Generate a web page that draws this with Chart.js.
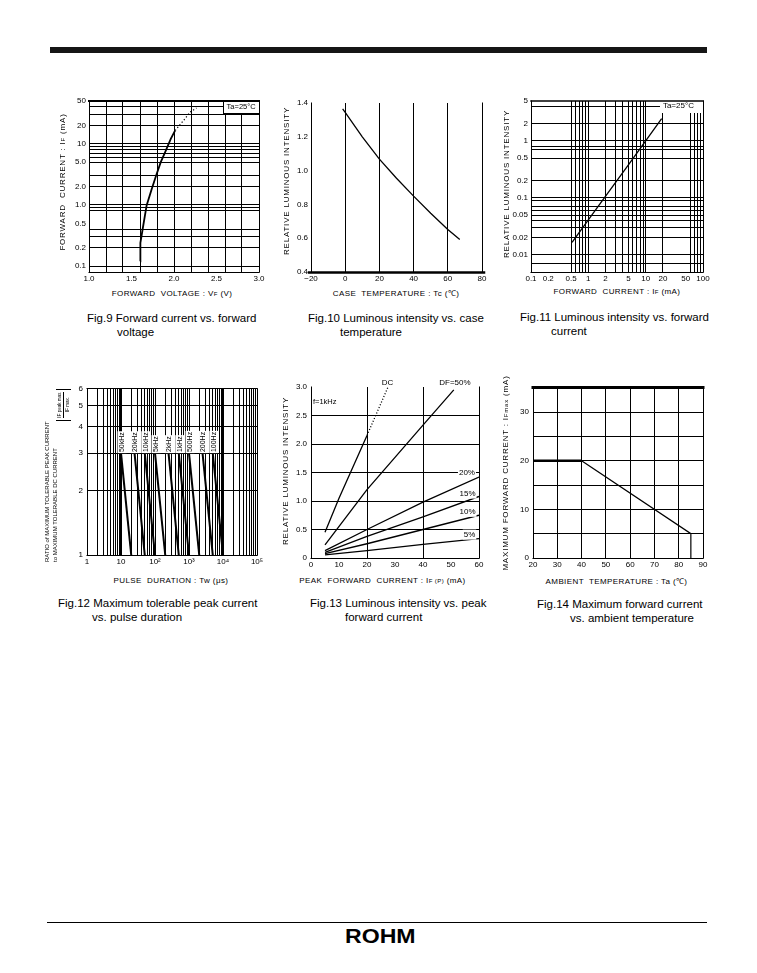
<!DOCTYPE html>
<html>
<head>
<meta charset="utf-8">
<script src="https://cdn.jsdelivr.net/npm/chart.js@4.4.0/dist/chart.umd.min.js"></script>
<style>
  html, body { margin: 0; padding: 0; background: #fff; }
  body { width: 757px; height: 973px; position: relative; overflow: hidden;
         font-family: "Liberation Sans", Arial, sans-serif; color: #000; }
  .wrap { position: absolute; }
  .cap { position: absolute; font-size: 11.5px; line-height: 14px; white-space: nowrap; transform: translateY(-50%); }
  .ttl { position: absolute; font-size: 8px; line-height: 10px; letter-spacing: 0.4px; white-space: nowrap;
         transform: translate(-50%, -50%); }
  .ttl.v { transform: translate(-50%, -50%) rotate(-90deg); letter-spacing: 0.8px; }
  .rl { position: absolute; transform-origin: 0 0; transform: rotate(-90deg); white-space: nowrap; line-height: 8px; }
  .s { font-size: 6px; }
</style>
</head>
<body>

<div style="position:absolute;left:50px;top:47px;width:657px;height:6px;background:#161616"></div>

<div class="wrap" id="f9"></div>
<div class="wrap" id="f10"></div>
<div class="wrap" id="f11"></div>
<div class="wrap" id="f12"></div>
<div class="wrap" id="f13"></div>
<div class="wrap" id="f14"></div>

<!-- axis titles -->
<div class="ttl" style="left:172px;top:294px">FORWARD&nbsp; VOLTAGE : V<span class="s">F</span> (V)</div>
<div class="ttl v" style="left:62.5px;top:182px">FORWARD&nbsp; CURRENT : I<span class="s">F</span> (mA)</div>
<div class="ttl" style="left:396px;top:293.5px">CASE&nbsp; TEMPERATURE : Tc (℃)</div>
<div class="ttl v" style="left:286.5px;top:181px">RELATIVE LUMINOUS INTENSITY</div>
<div class="ttl" style="left:617px;top:292px">FORWARD&nbsp; CURRENT : I<span class="s">F</span> (mA)</div>
<div class="ttl v" style="left:507px;top:184px">RELATIVE LUMINOUS INTENSITY</div>

<div class="ttl" style="left:171px;top:580.5px">PULSE&nbsp; DURATION : Tw (μs)</div>
<div class="rl" style="left:43px;top:562px;font-size:6px">RATIO of MAXIMUM TOLERABLE PEAK CURRENT</div>
<div class="rl" style="left:50.5px;top:562px;font-size:6px">to MAXIMUM TOLERABLE DC CURRENT</div>
<div class="rl" style="left:56px;top:421px;font-size:6px;line-height:6px">
  <span style="display:inline-block;border-left:1px solid #000;border-right:1px solid #000;padding:0 2px;text-align:center">
    <span style="display:block;border-bottom:1px solid #000">I<span style="font-size:4.5px">F peak max.</span></span>
    <span style="display:block">I<span style="font-size:4.5px">F max.</span></span>
  </span>
</div>
<div class="ttl" style="left:382.5px;top:580.5px">PEAK&nbsp; FORWARD&nbsp; CURRENT : I<span class="s">F (P)</span> (mA)</div>
<div class="ttl v" style="left:286px;top:471px">RELATIVE LUMINOUS INTENSITY</div>
<div class="ttl" style="left:616.5px;top:581.5px">AMBIENT&nbsp; TEMPERATURE : Ta (℃)</div>
<div class="ttl v" style="left:506px;top:472.5px">MAXIMUM FORWARD CURRENT : I<span class="s">Fmax</span> (mA)</div>

<!-- captions -->
<div class="cap" style="left:87px;top:318px">Fig.9 Forward current vs. forward</div>
<div class="cap" style="left:117px;top:332px">voltage</div>
<div class="cap" style="left:308px;top:318px">Fig.10 Luminous intensity vs. case</div>
<div class="cap" style="left:340px;top:332px">temperature</div>
<div class="cap" style="left:520px;top:317px">Fig.11 Luminous intensity vs. forward</div>
<div class="cap" style="left:551px;top:331px">current</div>
<div class="cap" style="left:58px;top:603px">Fig.12 Maximum tolerable peak current</div>
<div class="cap" style="left:92px;top:617px">vs. pulse duration</div>
<div class="cap" style="left:310px;top:603px">Fig.13 Luminous intensity vs. peak</div>
<div class="cap" style="left:345px;top:617px">forward current</div>
<div class="cap" style="left:537px;top:604px">Fig.14 Maximum forward current</div>
<div class="cap" style="left:570px;top:618px">vs. ambient temperature</div>

<div style="position:absolute;left:47px;top:922px;width:660px;height:1px;background:#000"></div>
<div style="position:absolute;left:345px;top:925px;font:900 21px/21px 'Liberation Sans';transform-origin:0 0;transform:scaleX(1.1)">ROHM</div>

<script>
// ---------- Fig.9 Forward current vs. forward voltage ----------
const fig9Voltage = [1.600, 1.602, 1.607, 1.631, 1.678, 1.737, 1.789, 1.844, 1.896, 1.962, 2.014, 2.112, 2.191, 2.265];
const fig9Current = [0.12, 0.15, 0.24, 0.40, 0.98, 1.8, 3.0, 5.0, 7.3, 12.0, 16.5, 24, 33, 38.4];
const fig9XLabels = [1.0, 1.5, 2.0, 2.5, 3.0];
const fig9XGrid = [1.2, 1.4, 1.6, 1.8, 2.0, 2.2, 2.4, 2.6, 2.8];
const fig9YLabels = [50, 20, 10, 5, 2, 1, 0.5, 0.2, 0.1];
const fig9YGrid = [40, 30, 20, 10, 9, 8, 7, 6, 5, 3, 2, 1, 0.9, 0.8, 0.4, 0.3, 0.2, 0.1];

// ---------- Fig.10 Luminous intensity vs. case temperature ----------
const fig10Temp = [-1.5, 0, 10, 20, 30, 40, 50, 60, 67];
const fig10Intensity = [1.365, 1.345, 1.200, 1.068, 0.955, 0.849, 0.748, 0.652, 0.592];
const fig10XLabels = [-20, 0, 20, 40, 60, 80];
const fig10XGrid = [0, 20, 40, 60];
const fig10YLabels = [0.4, 0.6, 0.8, 1.0, 1.2, 1.4];

// ---------- Fig.11 Luminous intensity vs. forward current ----------
const fig11Current = [0.52, 1, 2, 5, 10, 19];
const fig11Intensity = [0.0165, 0.041, 0.107, 0.38, 1.0, 2.45];
const fig11XLabels = [0.1, 0.2, 0.5, 1, 2, 5, 10, 20, 50, 100];
const fig11XGrid = [0.5, 0.6, 0.7, 0.8, 0.9, 1, 2, 3, 4, 5, 6, 7, 8, 9, 10, 20, 60, 70, 80, 90];
const fig11YLabels = [5, 2, 1, 0.5, 0.2, 0.1, 0.05, 0.02, 0.01];
const fig11YGrid = [4, 2, 1, 0.8, 0.7, 0.5, 0.2, 0.1, 0.09, 0.07, 0.06, 0.05, 0.04, 0.03, 0.02, 0.01, 0.007];

// ---------- Fig.12 Maximum tolerable peak current vs. pulse duration ----------
const fig12Freq = ['50kHz', '20kHz', '10kHz', '5kHz', '2kHz', '1kHz', '500Hz', '200Hz', '100Hz'];
const fig12TwAtRatio3 = [10, 25, 50, 100, 250, 500, 1000, 2500, 5000];
const fig12TwAtRatio1 = [20, 50, 100, 200, 500, 1000, 2000, 5000, 10000];
const fig12XLabels = [1, 10, 100, 1000, 10000, 100000];
const fig12XText = ['1', '10', '10²', '10³', '10⁴', '10⁵'];
const fig12YLabels = [1, 2, 3, 4, 5, 6];
const fig12YGrid = [2, 3, 4, 5];
const fig12ThickX = [10, 10000];

// ---------- Fig.13 Luminous intensity vs. peak forward current ----------
const fig13Series = ['DC', 'DF=50%', '20%', '15%', '10%', '5%'];
const fig13Current = [
  [5, 10, 20, 27.5],
  [5, 20, 40, 51],
  [5, 20, 40, 60],
  [5, 20, 40, 60],
  [5, 20, 40, 60],
  [5, 20, 40, 60]
];
const fig13Intensity = [
  [0.45, 1.05, 2.15, 3.0],
  [0.23, 1.2, 2.33, 2.95],
  [0.13, 0.50, 0.98, 1.42],
  [0.10, 0.38, 0.72, 1.08],
  [0.075, 0.25, 0.50, 0.75],
  [0.055, 0.13, 0.24, 0.34]
];
const fig13XLabels = [0, 10, 20, 30, 40, 50, 60];
const fig13XGrid = [20, 40];
const fig13YLabels = [0, 0.5, 1.0, 1.5, 2.0, 2.5, 3.0];
const fig13YGrid = [0.5, 1.0, 1.5, 2.0, 2.5];

// ---------- Fig.14 Maximum forward current vs. ambient temperature ----------
const fig14Temp = [20, 40, 85, 85];
const fig14Current = [20, 20, 5, 0];
const fig14XLabels = [20, 30, 40, 50, 60, 70, 80, 90];
const fig14XGrid = [30, 40, 50, 60, 70, 80];
const fig14YTicks = [0, 5, 10, 15, 20, 25, 30, 35];
const fig14YLabels = [0, 10, 20, 30];
const fig14YGrid = [5, 10, 15, 20, 25, 30];

// plot rectangles on the page and room for tick labels
const PLOTS = {
  f9:  { l: 89,  t: 101, r: 259, b: 272, yw: 30, xh: 14, pt: 8,  pr: 12 },
  f10: { l: 311, t: 103, r: 482, b: 272, yw: 30, xh: 14, pt: 8,  pr: 12 },
  f11: { l: 531, t: 101, r: 703, b: 272, yw: 30, xh: 14, pt: 8,  pr: 12 },
  f12: { l: 87,  t: 388, r: 257, b: 555, yw: 30, xh: 14, pt: 8,  pr: 12 },
  f13: { l: 311, t: 387, r: 479, b: 558, yw: 30, xh: 14, pt: 14, pr: 12 },
  f14: { l: 533, t: 387, r: 703, b: 558, yw: 30, xh: 14, pt: 8,  pr: 12 }
};

const FONT = 'Liberation Sans';
Chart.defaults.font.family = FONT;

function near(list, v) {
  return (list || []).some(g => Math.abs(g - v) <= 1e-6 * Math.max(1, Math.abs(v)));
}

function pts(xs, ys) {
  return xs.map((x, i) => ({ x: x, y: ys[i] }));
}

// draw the plot box sides with their own widths
const framePlugin = {
  id: 'frame',
  afterDraw(chart, args, o) {
    const a = chart.chartArea, ctx = chart.ctx;
    const al = (p, w) => (Math.round(w) % 2 ? Math.round(p - 0.5) + 0.5 : Math.round(p));
    ctx.save();
    ctx.strokeStyle = '#000';
    ctx.lineCap = 'square';
    const side = (w, x1, y1, x2, y2) => {
      if (!w) return;
      ctx.lineWidth = w;
      ctx.beginPath(); ctx.moveTo(x1, y1); ctx.lineTo(x2, y2); ctx.stroke();
    };
    const L = al(a.left, o.left), R = al(a.right, o.right), T = al(a.top, o.top), B = al(a.bottom, o.bottom);
    side(o.top, a.left, T, a.right, T);
    side(o.bottom, a.left - (o.ext || 0), B, a.right + (o.ext || 0), B);
    side(o.left, L, a.top, L, a.bottom);
    side(o.right, R, a.top, R, a.bottom);
    ctx.restore();
  }
};

// in-plot texts and boxes, placed in data coordinates
const notesPlugin = {
  id: 'notes',
  afterDatasetsDraw(chart, args, o) {
    const ctx = chart.ctx, xs = chart.scales.x, ys = chart.scales.y;
    (o.items || []).forEach(n => {
      ctx.save();
      if (n.box) {
        const x1 = xs.getPixelForValue(n.box[0]), x2 = xs.getPixelForValue(n.box[1]);
        const y1 = ys.getPixelForValue(n.box[2]), y2 = ys.getPixelForValue(n.box[3]);
        const bx = Math.round(Math.min(x1, x2)), by = Math.round(Math.min(y1, y2));
        const bw = Math.round(Math.abs(x2 - x1)), bh = Math.round(Math.abs(y2 - y1));
        ctx.fillStyle = '#fff';
        ctx.fillRect(bx, by, bw, bh);
        if (n.stroke) {
          ctx.strokeStyle = '#000'; ctx.lineWidth = 1;
          ctx.strokeRect(bx + 0.5, by + 0.5, bw, bh);
        }
      }
      if (n.text) {
        const px = xs.getPixelForValue(n.x) + (n.dx || 0);
        const py = ys.getPixelForValue(n.y) + (n.dy || 0);
        ctx.translate(px, py);
        if (n.rotate) ctx.rotate(n.rotate);
        ctx.font = (n.size || 8) + 'px "' + FONT + '"';
        ctx.textAlign = n.align || 'center';
        ctx.textBaseline = 'middle';
        const w = ctx.measureText(n.text).width;
        if (n.bg) {
          const x0 = ctx.textAlign === 'left' ? 0 : ctx.textAlign === 'right' ? -w : -w / 2;
          ctx.fillStyle = '#fff';
          ctx.fillRect(x0 - 1, -(n.size || 8) / 2 - 1, w + 2, (n.size || 8) + 2);
        }
        ctx.fillStyle = '#000';
        ctx.fillText(n.text, 0, 0);
      }
      ctx.restore();
    });
  }
};

function makeScale(c) {
  // one tick per value, so no label is drawn twice
  const all = [];
  c.ticks.forEach(v => { if (!near(all, v)) all.push(v); });
  all.sort((a, b) => a - b);
  return {
    type: c.type || 'linear',
    min: c.min,
    max: c.max,
    afterBuildTicks: s => { s.ticks = all.map(v => ({ value: v })); },
    afterFit: s => { if (s.isHorizontal()) s.height = c.size; else s.width = c.size; },
    border: { display: false },
    grid: {
      drawTicks: false,
      color: g => (g.tick && near(c.grid, g.tick.value)) ? '#000' : 'rgba(0,0,0,0)',
      lineWidth: g => (g.tick && near(c.thick, g.tick.value)) ? 2 : 1
    },
    ticks: {
      autoSkip: false,
      maxRotation: 0,
      minRotation: 0,
      padding: c.pad,
      color: '#000',
      font: { family: FONT, size: 8 },
      callback: v => near(c.labels, v) ? c.fmt(v) : ''
    }
  };
}

function makeChart(id, cfg) {
  const P = PLOTS[id];
  const wrap = document.getElementById(id);
  const w = P.yw + (P.r - P.l) + P.pr;
  const h = P.pt + (P.b - P.t) + P.xh;
  wrap.style.left = (P.l - P.yw) + 'px';
  wrap.style.top = (P.t - P.pt) + 'px';
  const canvas = document.createElement('canvas');
  canvas.width = w; canvas.height = h;
  canvas.style.width = w + 'px'; canvas.style.height = h + 'px';
  wrap.appendChild(canvas);
  cfg.x.size = P.xh; cfg.y.size = P.yw;
  return new Chart(canvas.getContext('2d'), {
    type: 'line',
    data: { datasets: cfg.datasets },
    options: {
      responsive: false,
      animation: false,
      layout: { padding: { left: 0, top: P.pt, right: P.pr, bottom: 0 } },
      plugins: {
        legend: { display: false },
        tooltip: { enabled: false },
        frame: cfg.frame,
        notes: { items: cfg.notes || [] }
      },
      scales: { x: makeScale(cfg.x), y: makeScale(cfg.y) },
      elements: { point: { radius: 0 }, line: { borderColor: '#000', tension: 0 } }
    },
    plugins: [framePlugin, notesPlugin]
  });
}

// Fig.9
makeChart('f9', {
  x: { min: 1, max: 3, ticks: fig9XLabels.concat(fig9XGrid), labels: fig9XLabels, grid: fig9XGrid,
       pad: 2, fmt: v => v.toFixed(1) },
  y: { type: 'logarithmic', min: 0.08, max: 50, ticks: fig9YGrid.concat(fig9YLabels), labels: fig9YLabels,
       grid: fig9YGrid, pad: 3, fmt: v => v >= 10 ? String(v) : v.toFixed(1) },
  datasets: [{
    data: pts(fig9Voltage, fig9Current),
    borderColor: '#000',
    borderWidth: 1.8,
    segment: {
      borderDash: s => s.p0.parsed.x >= 2.0 ? [1.2, 2.2] : undefined,
      borderWidth: s => s.p0.parsed.x >= 2.0 ? 1.2 : 1.8
    }
  }],
  frame: { top: 2, right: 1, bottom: 1, left: 1 },
  notes: [
    { box: [2.58, 3.0, 50, 31.8], stroke: true },
    { x: 2.79, y: 39.5, text: 'Ta=25°C', size: 7.5 }
  ]
});

// Fig.10
makeChart('f10', {
  x: { min: -20, max: 80, ticks: fig10XLabels, labels: fig10XLabels, grid: fig10XGrid,
       pad: 2, fmt: v => v < 0 ? '−' + Math.abs(v) : String(v) },
  y: { min: 0.4, max: 1.4, ticks: fig10YLabels, labels: fig10YLabels, grid: [],
       pad: 3, fmt: v => v.toFixed(1) },
  datasets: [{ data: pts(fig10Temp, fig10Intensity), borderColor: '#000', borderWidth: 1.3 }],
  frame: { top: 0, right: 1, bottom: 2.5, left: 1, ext: 2 }
});

// Fig.11
makeChart('f11', {
  x: { type: 'logarithmic', min: 0.1, max: 100, ticks: fig11XLabels.concat(fig11XGrid),
       labels: fig11XLabels, grid: fig11XGrid, pad: 2, fmt: v => String(v) },
  y: { type: 'logarithmic', min: 0.005, max: 5, ticks: fig11YLabels.concat(fig11YGrid),
       labels: fig11YLabels, grid: fig11YGrid, pad: 3, fmt: v => String(v) },
  datasets: [{ data: pts(fig11Current, fig11Intensity), borderColor: '#000', borderWidth: 1.3 }],
  frame: { top: 1.5, right: 1, bottom: 1, left: 1 },
  notes: [
    { box: [17.8, 100, 5, 3.07] },
    { x: 20, y: 4.05, text: 'Ta=25°C', size: 8, align: 'left' }
  ]
});

// Fig.12
const fig12Grid = [];
fig12XLabels.slice(0, 5).forEach(d => { for (let m = 1; m <= 9; m++) fig12Grid.push(d * m); });
makeChart('f12', {
  x: { type: 'logarithmic', min: 1, max: 100000, ticks: fig12Grid.concat(fig12XLabels), labels: fig12XLabels,
       grid: fig12Grid.filter(v => v > 1), thick: fig12ThickX, pad: 2,
       fmt: v => fig12XText[fig12XLabels.findIndex(l => Math.abs(l - v) < 1e-6)] },
  y: { type: 'logarithmic', min: 1, max: 6, ticks: fig12YLabels, labels: fig12YLabels, grid: fig12YGrid,
       pad: 4, fmt: v => String(Math.round(v)) },
  datasets: fig12Freq.map((f, i) => ({
    label: f,
    data: [{ x: fig12TwAtRatio3[i], y: 3 }, { x: fig12TwAtRatio1[i], y: 1 }],
    borderColor: '#000',
    borderWidth: 2
  })),
  frame: { top: 1, right: 1, bottom: 1, left: 1 },
  notes: fig12Freq.map((f, i) => ({
    x: fig12TwAtRatio3[i], y: 3, text: f, rotate: -Math.PI / 2, align: 'left', dx: 1, dy: -1, size: 7, bg: true
  }))
});

// Fig.13
makeChart('f13', {
  x: { min: 0, max: 60, ticks: fig13XLabels, labels: fig13XLabels, grid: fig13XGrid, pad: 2, fmt: v => String(v) },
  y: { min: 0, max: 3, ticks: fig13YLabels, labels: fig13YLabels, grid: fig13YGrid, pad: 4,
       fmt: v => v === 0 ? '0' : v.toFixed(1) },
  datasets: fig13Series.map((s, i) => ({
    label: s,
    data: pts(fig13Current[i], fig13Intensity[i]),
    borderColor: '#000',
    borderWidth: 1.3,
    segment: i === 0 ? { borderDash: g => g.p0.parsed.x >= 20 ? [1, 2] : undefined } : undefined
  })),
  frame: { top: 0, right: 1, bottom: 1, left: 1 },
  notes: [
    { x: 27.3, y: 3.07, text: 'DC', size: 8 },
    { x: 51.4, y: 3.07, text: 'DF=50%', size: 8 },
    { x: 0.7, y: 2.73, text: 'f=1kHz', size: 7.5, align: 'left' },
    { x: 55.7, y: 1.5, text: '20%', size: 8, bg: true },
    { x: 55.9, y: 1.13, text: '15%', size: 8, bg: true },
    { x: 55.9, y: 0.81, text: '10%', size: 8, bg: true },
    { x: 56.6, y: 0.41, text: '5%', size: 8, bg: true }
  ]
});

// Fig.14
makeChart('f14', {
  x: { min: 20, max: 90, ticks: fig14XLabels, labels: fig14XLabels, grid: fig14XGrid, pad: 2, fmt: v => String(v) },
  y: { min: 0, max: 35, ticks: fig14YTicks, labels: fig14YLabels, grid: fig14YGrid, pad: 4, fmt: v => String(v) },
  datasets: [{
    data: pts(fig14Temp, fig14Current),
    borderColor: '#000',
    borderWidth: 1.2,
    segment: { borderWidth: s => s.p0DataIndex === 0 ? 2.5 : 1.2 }
  }],
  frame: { top: 3, right: 1, bottom: 1, left: 1 }
});
</script>
</body>
</html>
